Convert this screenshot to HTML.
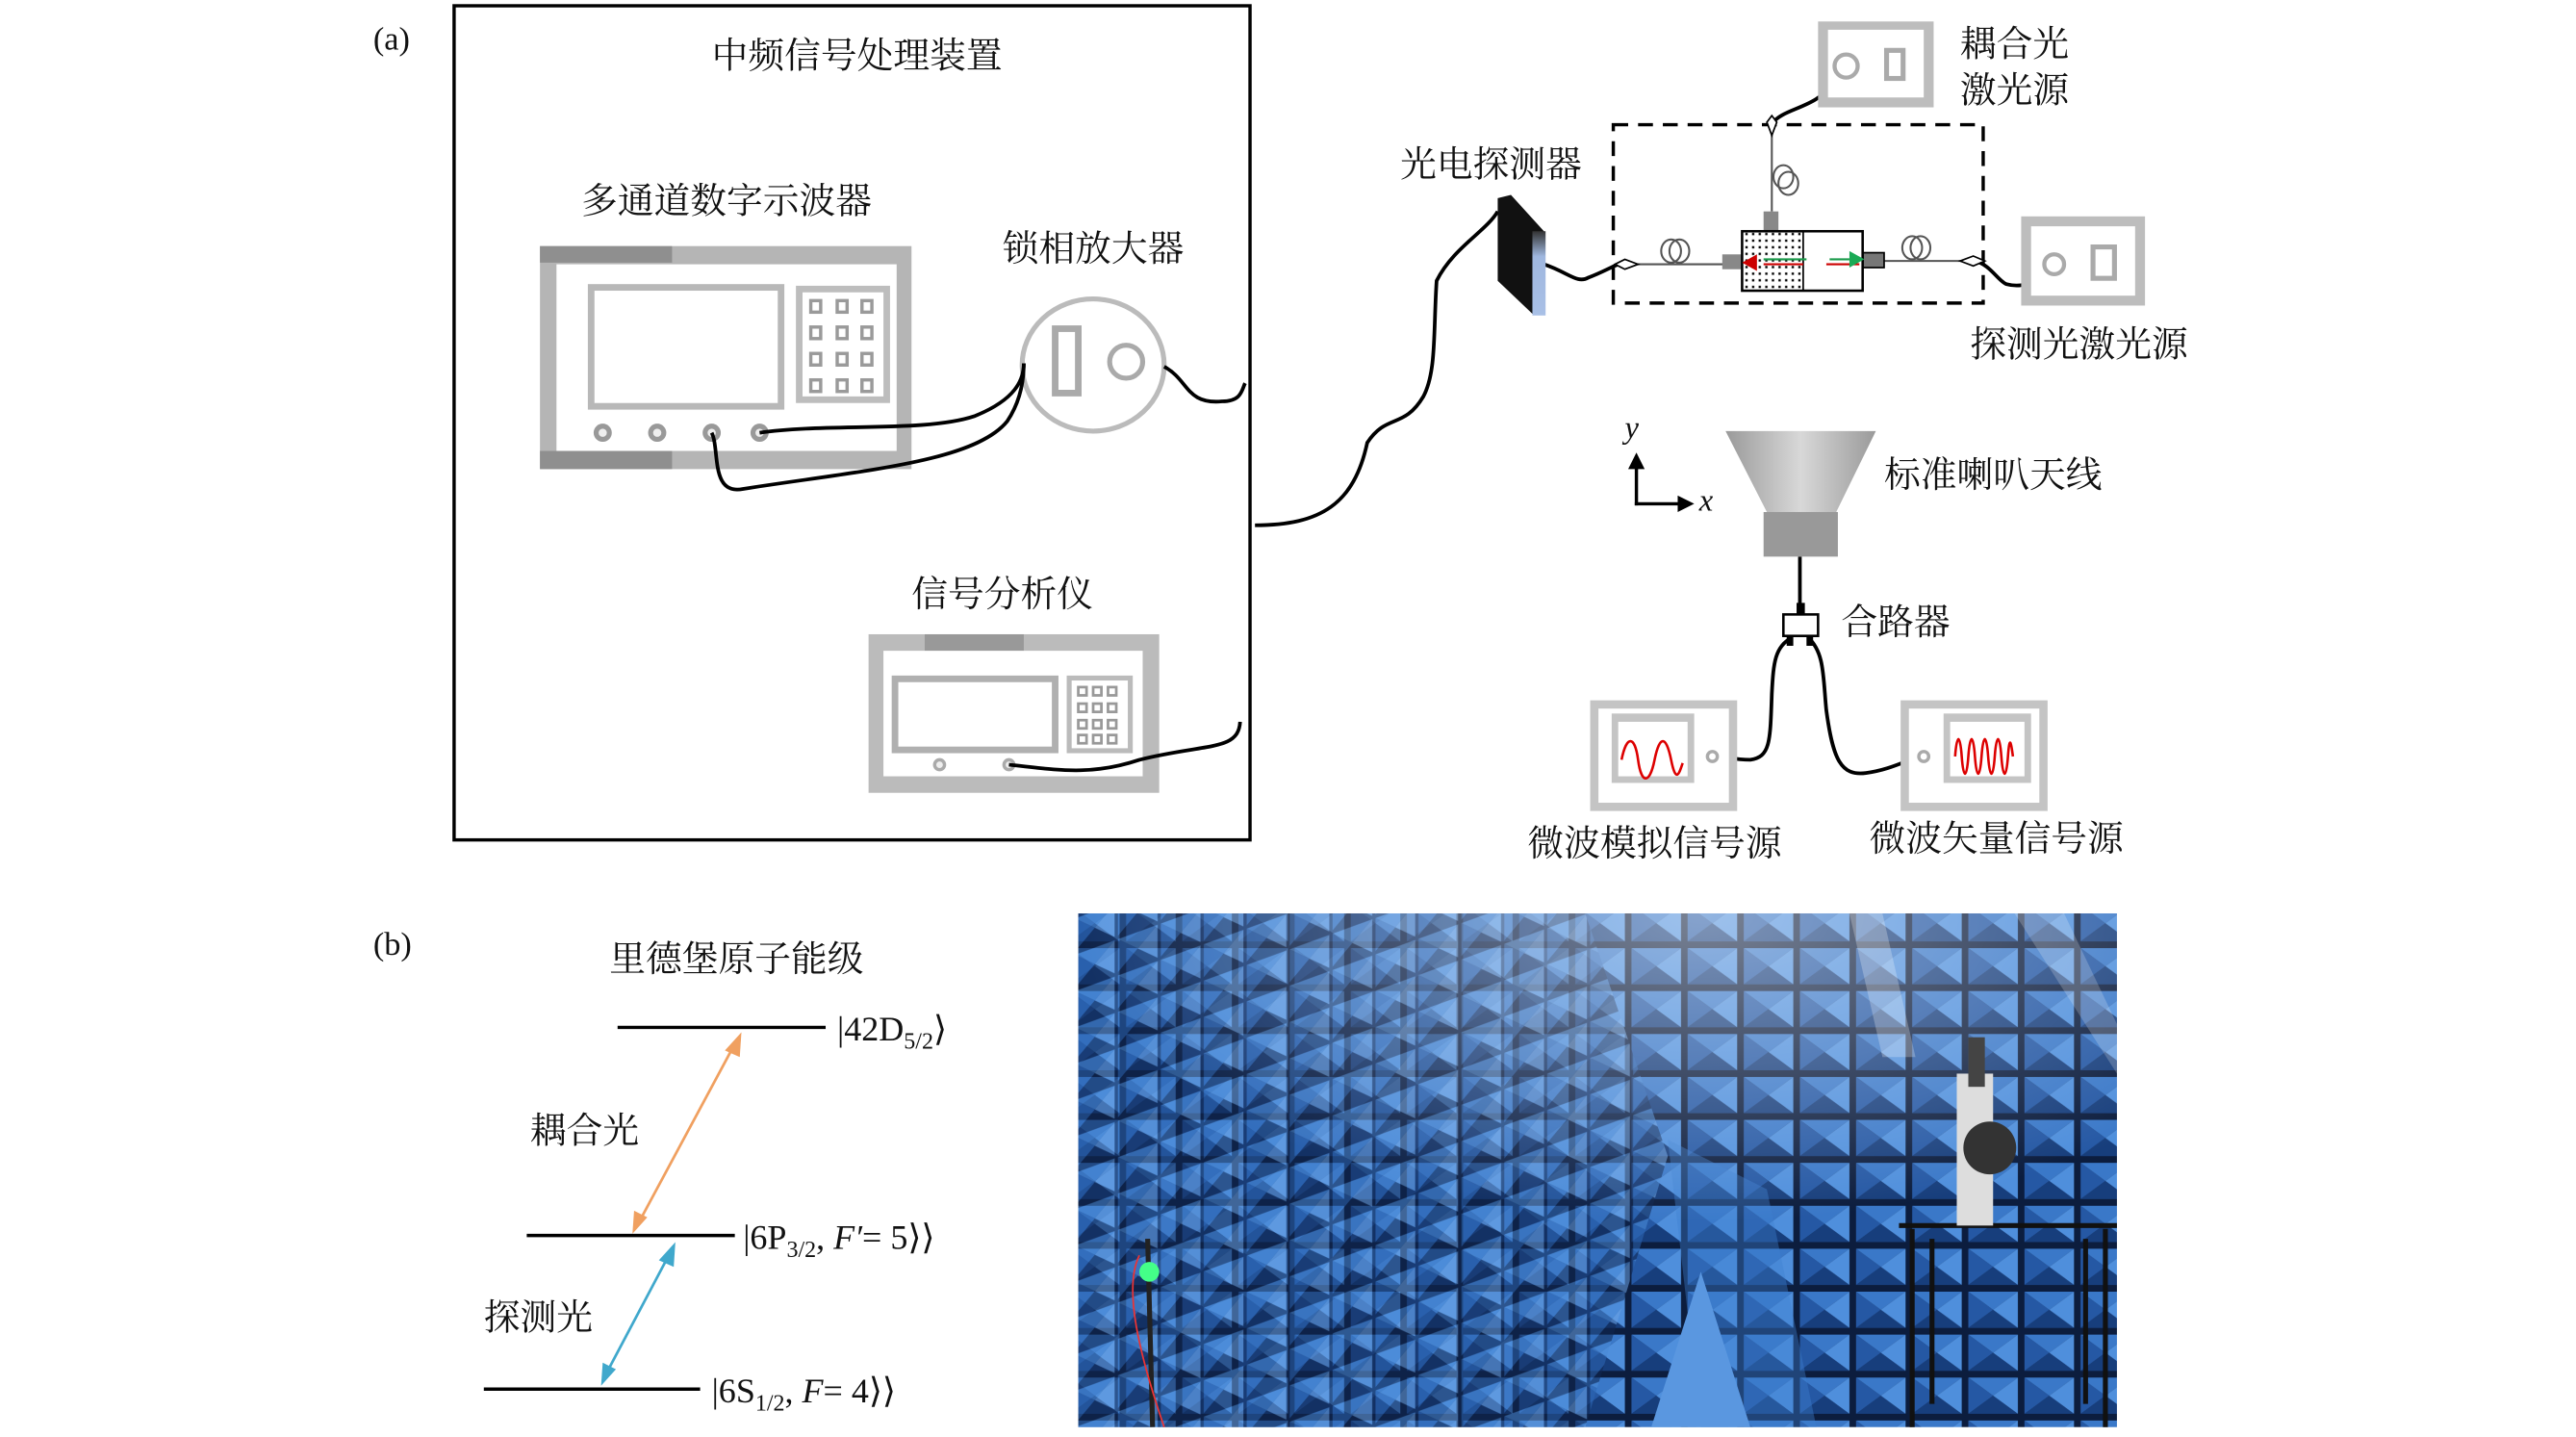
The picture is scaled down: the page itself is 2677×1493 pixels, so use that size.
<!DOCTYPE html>
<html><head><meta charset="utf-8">
<style>
html,body{margin:0;padding:0;background:#fff;}
svg{display:block;}
text{font-family:"Liberation Serif","Noto Serif CJK SC","Noto Sans CJK SC",serif;fill:#111;}
</style></head>
<body>
<svg width="2677" height="1493" viewBox="0 0 1560 870" preserveAspectRatio="none" xmlns="http://www.w3.org/2000/svg">
<defs>
<linearGradient id="horn" x1="0" y1="0" x2="1" y2="0">
<stop offset="0" stop-color="#9a9a9a"/><stop offset="0.5" stop-color="#d8d8d8"/><stop offset="1" stop-color="#9a9a9a"/>
</linearGradient>
<linearGradient id="pd" x1="0" y1="0" x2="0" y2="1">
<stop offset="0" stop-color="#333"/><stop offset="0.3" stop-color="#9fb7df"/><stop offset="1" stop-color="#a9c0e6"/>
</linearGradient>
<pattern id="dots" width="4" height="4" patternUnits="userSpaceOnUse">
<rect width="4" height="4" fill="#fff"/><rect x="1" y="1" width="1.4" height="1.4" fill="#000"/>
</pattern>
<pattern id="pyr" width="34" height="26" patternUnits="userSpaceOnUse">
<rect width="34" height="26" fill="#0c1d3e"/>
<polygon points="2,2 32,2 17,13" fill="#3a78c8"/>
<polygon points="2,2 17,13 2,24" fill="#2558a4"/>
<polygon points="32,2 17,13 32,24" fill="#4f8fdc"/>
<polygon points="2,24 17,13 32,24" fill="#173e7c"/>
</pattern>
<pattern id="pyr2" width="26" height="22" patternUnits="userSpaceOnUse" patternTransform="skewY(-20)">
<rect width="26" height="22" fill="#0f2650"/>
<polygon points="1,1 25,1 13,11" fill="#4a8ad6"/>
<polygon points="1,1 13,11 1,21" fill="#2d66b4"/>
<polygon points="25,1 13,11 25,21" fill="#6aa2e4"/>
</pattern>
<radialGradient id="light" cx="0.6" cy="0" r="0.6">
<stop offset="0" stop-color="#fff" stop-opacity="0.45"/><stop offset="1" stop-color="#fff" stop-opacity="0"/>
</radialGradient>
</defs>

<!-- (a) -->
<text x="226" y="30" font-size="20">(a)</text>
<rect x="275" y="3.5" width="482" height="505" fill="none" stroke="#000" stroke-width="2"/>
<text x="519" y="41" font-size="22" text-anchor="middle">中频信号处理装置</text>
<text x="440" y="129" font-size="22" text-anchor="middle">多通道数字示波器</text>
<text x="662" y="158" font-size="22" text-anchor="middle">锁相放大器</text>
<text x="607" y="367" font-size="22" text-anchor="middle">信号分析仪</text>

<!-- oscilloscope -->
<rect x="327" y="149" width="225" height="135" fill="#b5b5b5"/>
<rect x="327" y="149" width="80" height="10" fill="#8f8f8f"/>
<rect x="327" y="273" width="80" height="11" fill="#8f8f8f"/>
<rect x="337" y="160" width="206" height="113" fill="#fff"/>
<rect x="356" y="172" width="119" height="76" fill="#b8b8b8"/>
<rect x="360" y="176" width="111" height="68" fill="#fff"/>
<rect x="482" y="173" width="57" height="71" fill="#bdbdbd"/>
<rect x="486" y="177" width="49" height="63" fill="#fff"/>
<g fill="#fff" stroke="#9a9a9a" stroke-width="2">
<rect x="491" y="182" width="6" height="7"/><rect x="507" y="182" width="6" height="7"/><rect x="522" y="182" width="6" height="7"/>
<rect x="491" y="198" width="6" height="7"/><rect x="507" y="198" width="6" height="7"/><rect x="522" y="198" width="6" height="7"/>
<rect x="491" y="214" width="6" height="7"/><rect x="507" y="214" width="6" height="7"/><rect x="522" y="214" width="6" height="7"/>
<rect x="491" y="230" width="6" height="7"/><rect x="507" y="230" width="6" height="7"/><rect x="522" y="230" width="6" height="7"/>
</g>
<g fill="#eee" stroke="#999" stroke-width="3">
<circle cx="365" cy="262" r="4"/><circle cx="398" cy="262" r="4"/><circle cx="431" cy="262" r="4"/><circle cx="460" cy="262" r="4"/>
</g>
<!-- lock-in -->
<ellipse cx="662" cy="221" rx="43" ry="40" fill="#fff" stroke="#bbb" stroke-width="3"/>
<rect x="637" y="197" width="18" height="43" fill="#aaa"/>
<rect x="641" y="201" width="10" height="35" fill="#fff"/>
<circle cx="682" cy="219" r="10" fill="#fff" stroke="#aaa" stroke-width="3"/>
<!-- analyzer -->
<rect x="526" y="384" width="176" height="96" fill="#bbb"/>
<rect x="560" y="384" width="60" height="10" fill="#999"/>
<rect x="535" y="394" width="157" height="76" fill="#fff"/>
<rect x="540" y="409" width="101" height="47" fill="#b0b0b0"/>
<rect x="544" y="413" width="93" height="39" fill="#fff"/>
<rect x="646" y="409" width="40" height="47" fill="#bbb"/>
<rect x="649" y="412" width="34" height="41" fill="#fff"/>
<g fill="#fff" stroke="#999" stroke-width="1.6">
<rect x="653" y="416" width="5" height="5"/><rect x="662" y="416" width="5" height="5"/><rect x="671" y="416" width="5" height="5"/>
<rect x="653" y="426" width="5" height="5"/><rect x="662" y="426" width="5" height="5"/><rect x="671" y="426" width="5" height="5"/>
<rect x="653" y="436" width="5" height="5"/><rect x="662" y="436" width="5" height="5"/><rect x="671" y="436" width="5" height="5"/>
<rect x="653" y="445" width="5" height="5"/><rect x="662" y="445" width="5" height="5"/><rect x="671" y="445" width="5" height="5"/>
</g>
<g fill="#eee" stroke="#aaa" stroke-width="2"><circle cx="569" cy="463" r="3"/><circle cx="611" cy="463" r="3"/></g>

<!-- cables -->
<g fill="none" stroke="#000" stroke-width="2.2">
<path d="M460,262 C500,256 560,262 590,252 C615,242 620,230 620,220"/>
<path d="M431,262 C436,272 430,300 450,296 C520,285 590,280 610,255 C620,240 620,225 620,220"/>
<path d="M705,222 C720,230 718,245 740,243 C752,243 752,236 754,232"/>
<path d="M611,463 C640,466 660,470 690,460 C730,450 750,455 751,437"/>
<path d="M760,318 C800,318 820,305 828,268 C840,250 850,260 862,240 C870,225 868,200 870,170 C880,150 900,140 907,128"/>
<path d="M935,160 C950,165 955,172 962,168 C970,165 975,162 980,160"/>
<path d="M1073,75 C1080,65 1100,66 1110,50 C1115,44 1118,40 1118,38"/>
<path d="M1196,158 C1205,160 1210,170 1215,172 C1230,176 1238,165 1240,158"/>
<path d="M1090,337 L1090,372"/>
<path d="M1085,386 C1075,392 1074,400 1073,420 C1072,450 1072,458 1060,460 C1050,460 1045,458 1040,458"/>
<path d="M1095,386 C1105,395 1104,410 1106,430 C1110,460 1115,470 1130,468 C1145,466 1155,460 1163,458"/>
</g>

<!-- optical part -->
<rect x="1101" y="13" width="70" height="52" fill="#bdbdbd"/>
<rect x="1107" y="18" width="58" height="41" fill="#fff"/>
<circle cx="1118" cy="40" r="7" fill="#fff" stroke="#aaa" stroke-width="2.5"/>
<rect x="1141" y="29" width="13" height="20" fill="#aaa"/><rect x="1144" y="32" width="7" height="14" fill="#fff"/>
<text x="1187" y="34" font-size="22">耦合光</text>
<text x="1187" y="62" font-size="22">激光源</text>

<rect x="977" y="75.5" width="224" height="108" fill="none" stroke="#000" stroke-width="2" stroke-dasharray="9,6"/>
<text x="848" y="107" font-size="22">光电探测器</text>
<polygon points="907,120 915,118 935,140 935,190 928,190 907,170" fill="#111"/>
<rect x="928" y="140" width="8" height="51" fill="url(#pd)"/>

<g stroke="#555" stroke-width="1.2" fill="none">
<line x1="985" y1="160" x2="1046" y2="160"/>
<line x1="1137" y1="158" x2="1194" y2="158"/>
<line x1="1073" y1="78" x2="1073" y2="128"/>
<ellipse cx="1012" cy="152" rx="6" ry="7"/><ellipse cx="1017" cy="152" rx="6" ry="7"/>
<ellipse cx="1158" cy="150" rx="6" ry="7"/><ellipse cx="1163" cy="150" rx="6" ry="7"/>
<ellipse cx="1080" cy="107" rx="6" ry="7"/><ellipse cx="1083" cy="111" rx="6" ry="7"/>
</g>
<polygon points="978,160 984,157 992,160 984,163" fill="#fff" stroke="#000" stroke-width="1"/>
<polygon points="1202,158 1195,155 1187,158 1195,161" fill="#fff" stroke="#000" stroke-width="1"/>
<polygon points="1073,82 1070,74 1073,70 1076,74" fill="#fff" stroke="#000" stroke-width="1"/>
<rect x="1068" y="128" width="9" height="12" fill="#888"/>
<rect x="1043" y="154" width="12" height="9" fill="#888"/>
<rect x="1128" y="153" width="13" height="9" fill="#777" stroke="#000" stroke-width="1"/>
<rect x="1055" y="140" width="37" height="36" fill="url(#dots)"/>
<rect x="1055" y="140" width="73" height="36" fill="none" stroke="#000" stroke-width="1.5"/>
<line x1="1092" y1="140" x2="1092" y2="176" stroke="#000" stroke-width="1"/>
<line x1="1068" y1="157" x2="1094" y2="157" stroke="#1a9a4a" stroke-width="1.2"/>
<line x1="1068" y1="160" x2="1092" y2="160" stroke="#c00" stroke-width="1.2"/>
<polygon points="1055,159 1064,154 1064,164" fill="#c00"/>
<line x1="1108" y1="157" x2="1120" y2="157" stroke="#1a9a4a" stroke-width="1.2"/>
<line x1="1106" y1="160" x2="1126" y2="160" stroke="#c00" stroke-width="1.2"/>
<polygon points="1129,157 1120,152 1120,162" fill="#1aaa55"/>

<rect x="1224" y="131" width="75" height="54" fill="#bdbdbd"/>
<rect x="1230" y="137" width="63" height="42" fill="#fff"/>
<circle cx="1244" cy="160" r="6" fill="#fff" stroke="#aaa" stroke-width="2.5"/>
<rect x="1266" y="148" width="16" height="22" fill="#aaa"/><rect x="1269" y="151" width="10" height="16" fill="#fff"/>
<text x="1193" y="216" font-size="22">探测光激光源</text>

<!-- axes -->
<line x1="991" y1="306" x2="991" y2="282" stroke="#000" stroke-width="2"/>
<polygon points="991,274 986,284 996,284" fill="#000"/>
<line x1="990" y1="305" x2="1017" y2="305" stroke="#000" stroke-width="2"/>
<polygon points="1026,305 1016,300 1016,310" fill="#000"/>
<text x="984" y="265" font-size="19" font-style="italic">y</text>
<text x="1029" y="309" font-size="19" font-style="italic">x</text>

<polygon points="1045,261 1136,261 1112,310 1070,310" fill="url(#horn)"/>
<rect x="1068" y="310" width="45" height="27" fill="#999"/>
<text x="1141" y="295" font-size="22">标准喇叭天线</text>
<rect x="1088" y="365" width="5" height="8" fill="#000"/>
<rect x="1080" y="372" width="21" height="13" fill="#fff" stroke="#000" stroke-width="1.5"/>
<rect x="1082" y="385" width="4" height="6" fill="#000"/><rect x="1094" y="385" width="4" height="6" fill="#000"/>
<text x="1115" y="384" font-size="22">合路器</text>

<rect x="963" y="424" width="89" height="67" fill="#c4c4c4"/>
<rect x="968" y="429" width="79" height="57" fill="#fff"/>
<rect x="976" y="432" width="50" height="42" fill="#c4c4c4"/>
<rect x="980" y="437" width="42" height="33" fill="#fff"/>
<path d="M982,460 c3,-15 8,-15 10,0 s7,15 10,0 s7,-15 10,0 s5,8 7,2" fill="none" stroke="#d00" stroke-width="1.5"/>
<circle cx="1037" cy="458" r="3" fill="#fff" stroke="#aaa" stroke-width="2"/>
<rect x="1151" y="424" width="89" height="67" fill="#c4c4c4"/>
<rect x="1156" y="429" width="79" height="57" fill="#fff"/>
<rect x="1177" y="432" width="53" height="42" fill="#c4c4c4"/>
<rect x="1181" y="437" width="45" height="33" fill="#fff"/>
<path d="M1184,458 c1,-14 3,-14 4,0 s3,14 4,0 s3,-14 4,0 s3,14 4,0 s3,-14 4,0 s3,14 4,0 s3,-14 4,0 s3,14 4,0 s2,-8 3,0" fill="none" stroke="#d00" stroke-width="1.5"/>
<circle cx="1165" cy="458" r="3" fill="#fff" stroke="#aaa" stroke-width="2"/>
<text x="1002" y="518" font-size="22" text-anchor="middle">微波模拟信号源</text>
<text x="1209" y="515" font-size="22" text-anchor="middle">微波矢量信号源</text>

<!-- (b) -->
<text x="226" y="578" font-size="20">(b)</text>
<text x="446" y="588" font-size="22" text-anchor="middle">里德堡原子能级</text>
<line x1="374" y1="622" x2="500" y2="622" stroke="#000" stroke-width="2"/>
<line x1="319" y1="748" x2="445" y2="748" stroke="#000" stroke-width="2"/>
<line x1="293" y1="841" x2="424" y2="841" stroke="#000" stroke-width="2"/>
<text x="507" y="630" font-size="21">|42D<tspan font-size="14" dy="5">5/2</tspan><tspan dy="-5">⟩</tspan></text>
<text x="450" y="756" font-size="21">|6P<tspan font-size="14" dy="5">3/2</tspan><tspan dy="-5">, </tspan><tspan font-style="italic">F′</tspan>= 5⟩⟩</text>
<text x="431" y="849" font-size="21">|6S<tspan font-size="14" dy="5">1/2</tspan><tspan dy="-5">, </tspan><tspan font-style="italic">F</tspan>= 4⟩⟩</text>
<line x1="445" y1="632" x2="388" y2="738" stroke="#f0a060" stroke-width="1.6"/>
<polygon points="449,625 439,636 448,640" fill="#f0a060"/>
<polygon points="383,747 384,733 392,737" fill="#f0a060"/>
<line x1="405" y1="760" x2="368" y2="830" stroke="#40a8cc" stroke-width="1.6"/>
<polygon points="409,752 399,763 408,767" fill="#40a8cc"/>
<polygon points="364,839 365,825 373,829" fill="#40a8cc"/>
<text x="354" y="692" font-size="22" text-anchor="middle">耦合光</text>
<text x="326" y="805" font-size="22" text-anchor="middle">探测光</text>

<!-- photo -->
<rect x="653" y="553" width="629" height="311" fill="url(#pyr)"/>
<polygon points="653,553 960,553 1010,700 960,864 653,864" fill="url(#pyr2)" opacity="0.55"/>
<polygon points="1010,690 1030,864 1100,864 1070,720" fill="#3f7fd0" opacity="0.4"/>
<polygon points="1000,864 1030,770 1060,864" fill="#5a97e0"/>
<rect x="653" y="553" width="629" height="311" fill="url(#light)"/>
<polygon points="1120,553 1140,553 1160,640 1140,640" fill="#fff" opacity="0.25"/>
<polygon points="1220,553 1250,553 1282,620 1282,650" fill="#fff" opacity="0.2"/>
<g stroke="#111" stroke-width="3" fill="none">
<line x1="1158" y1="744" x2="1158" y2="864"/><line x1="1275" y1="744" x2="1275" y2="864"/>
<line x1="1170" y1="750" x2="1170" y2="850"/><line x1="1263" y1="750" x2="1263" y2="850"/>
<line x1="1150" y1="742" x2="1282" y2="742"/>
</g>
<rect x="1185" y="650" width="22" height="92" fill="#ddd"/>
<rect x="1192" y="628" width="10" height="30" fill="#444"/>
<circle cx="1205" cy="695" r="16" fill="#333"/>
<line x1="695" y1="750" x2="698" y2="864" stroke="#222" stroke-width="3"/>
<circle cx="696" cy="770" r="6" fill="#4f8"/>
<path d="M690,760 C680,780 690,820 705,864" stroke="#e33" fill="none" stroke-width="1"/>
</svg>
</body></html>
